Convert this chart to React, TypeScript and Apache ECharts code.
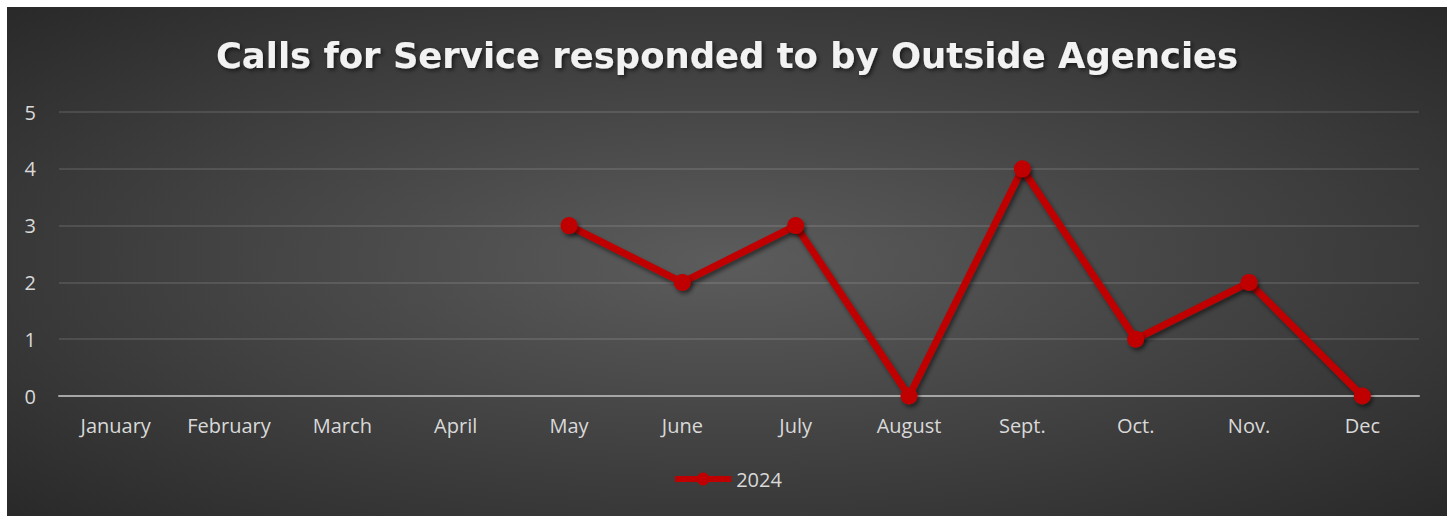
import React, { useEffect, useRef } from "react";
import * as echarts from "echarts";

const months = ["January", "February", "March", "April", "May", "June", "July", "August", "Sept.", "Oct.", "Nov.", "Dec"];
const values2024: (number | null)[] = [null, null, null, null, 3, 2, 3, 0, 4, 1, 2, 0];
const yTicks = [0, 1, 2, 3, 4, 5];

export default function App() {
  const ref = useRef<HTMLDivElement>(null);
  useEffect(() => {
    document.body.style.margin = "0";
    const chart = echarts.init(ref.current!, null, { renderer: "svg" });
    chart.setOption({
      animation: false,
      backgroundColor: {
        type: "radial",
        x: 0.5,
        y: 0.5,
        r: 0.75,
        colorStops: [
          { offset: 0, color: "#5c5c5c" },
          { offset: 1, color: "#262626" },
        ],
      },
      title: {
        text: "Calls for Service responded to by Outside Agencies",
        left: "center",
        top: 26,
        textStyle: {
          color: "#f2f2f2",
          fontFamily: "DejaVu Sans",
          fontWeight: "bold",
          fontSize: 35.4,
          textShadowColor: "rgba(0,0,0,0.6)",
          textShadowBlur: 4,
          textShadowOffsetX: 2,
          textShadowOffsetY: 2,
        },
      },
      legend: {
        bottom: 22,
        left: "center",
        itemWidth: 56,
        itemHeight: 16,
        itemGap: 4,
        lineStyle: { width: 6 },
        textStyle: { color: "#d9d9d9", fontFamily: "Open Sans", fontSize: 20 },
        data: ["2024"],
      },
      grid: { left: 52, right: 28, top: 105, bottom: 120, containLabel: false },
      xAxis: {
        type: "category",
        data: months,
        boundaryGap: true,
        axisLine: { show: true, lineStyle: { color: "#a6a6a6", width: 2 } },
        axisTick: { show: false },
        axisLabel: { color: "#d9d9d9", fontFamily: "Open Sans", fontSize: 20, margin: 19 },
      },
      yAxis: {
        type: "value",
        min: 0,
        max: 5,
        interval: 1,
        axisLine: { show: false },
        axisTick: { show: false },
        axisLabel: {
          color: "#d9d9d9",
          fontFamily: "Open Sans",
          fontSize: 20,
          margin: 23,
          formatter: (v: number) => (yTicks.includes(v) ? String(v) : ""),
        },
        splitLine: { lineStyle: { color: "rgba(255,255,255,0.15)", width: 1.5 } },
      },
      series: [
        {
          name: "2024",
          type: "line",
          data: values2024,
          connectNulls: false,
          symbol: "circle",
          symbolSize: 17,
          lineStyle: {
            color: "#c00000",
            width: 7,
            shadowColor: "rgba(0,0,0,0.5)",
            shadowBlur: 4,
            shadowOffsetX: 2,
            shadowOffsetY: 3,
          },
          itemStyle: {
            color: "#c00000",
            shadowColor: "rgba(0,0,0,0.5)",
            shadowBlur: 4,
            shadowOffsetX: 2,
            shadowOffsetY: 3,
          },
        },
      ],
    });
    return () => chart.dispose();
  }, []);
  return (
    <div style={{ width: 1453, height: 516, background: "#ffffff", position: "relative" }}>
      <div ref={ref} style={{ position: "absolute", left: 7, top: 7, width: 1440, height: 509 }} />
    </div>
  );
}
